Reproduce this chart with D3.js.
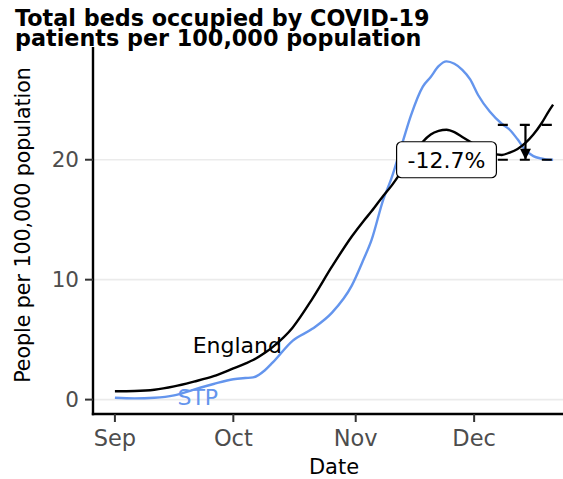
<!DOCTYPE html>
<html>
<head>
<meta charset="utf-8">
<script src="https://cdn.jsdelivr.net/npm/d3@7"></script>
<style>
body { margin: 0; background: #fff; }
text { font-family: "DejaVu Sans", sans-serif; }
</style>
</head>
<body>
<script>
// daily values (people in hospital per 100k)
const dates = ["2020-09-01", "2020-09-06", "2020-09-11", "2020-09-16", "2020-09-21", "2020-09-26",
    "2020-10-01", "2020-10-04", "2020-10-06", "2020-10-09", "2020-10-11", "2020-10-16", "2020-10-21",
    "2020-10-26", "2020-10-31", "2020-11-03", "2020-11-05", "2020-11-08", "2020-11-10", "2020-11-13",
    "2020-11-15", "2020-11-18", "2020-11-20", "2020-11-22", "2020-11-24", "2020-11-26", "2020-11-28",
    "2020-11-30", "2020-12-02", "2020-12-05", "2020-12-08", "2020-12-10", "2020-12-12", "2020-12-14",
    "2020-12-16", "2020-12-18", "2020-12-20", "2020-12-21"];
const england = [0.70, 0.72, 0.82, 1.10, 1.50, 1.95,
    2.60, 3.00, 3.30, 3.90, 4.40, 6.00, 8.40,
    11.1, 13.6, 14.9, 15.7, 17.0, 17.8, 19.2,
    20.1, 21.5, 22.1, 22.4, 22.5, 22.3, 21.9,
    21.5, 21.1, 20.6, 20.4, 20.6, 20.9, 21.4,
    22.1, 23.0, 24.1, 24.6];
const stp = [0.15, 0.10, 0.15, 0.35, 0.84, 1.30,
    1.70, 1.80, 1.85, 2.45, 3.10, 4.90, 5.90,
    7.25, 9.50, 11.7, 13.3, 16.7, 18.4, 21.6,
    23.7, 26.1, 26.9, 27.8, 28.2, 28.0, 27.5,
    26.7, 25.4, 24.0, 23.0, 22.5, 21.7, 20.8,
    20.3, 20.1, 20.0, 20.0];

const yTicks = [0, 10, 20];
const monthTicks = ["2020-09-01", "2020-10-01", "2020-11-01", "2020-12-01"];
const monthLabels = ["Sep", "Oct", "Nov", "Dec"];

// comparison annotation
const refDates = ["2020-12-07", "2020-12-21"];
const refLevels = [22.9, 20.0];
const arrowDate = "2020-12-14";
const labelDate = "2020-11-24";

const seriesLabels = [
    { name: "England", date: "2020-10-02", value: 4.55, color: "#000" },
    { name: "STP", date: "2020-09-22", value: 0.25, color: "#6495ED" },
];

const width = 563;
const height = 479;
const panel = { left: 93, right: 575, top: 47, bottom: 414 };

const parse = d3.utcParse("%Y-%m-%d");
const dayList = dates.map(parse);

const x0 = d3.min(dayList), x1 = d3.max(dayList);
const xPad = (x1 - x0) * 0.05;
const x = d3.scaleUtc()
    .domain([new Date(+x0 - xPad), new Date(+x1 + xPad)])
    .range([panel.left, panel.right]);

const y = d3.scaleLinear()
    .domain([-1.2, 29.4])
    .range([panel.bottom, panel.top]);

const svg = d3.select("body")
    .append("svg")
    .attr("width", width)
    .attr("height", height);

// gridlines
svg.selectAll(".grid")
    .data(yTicks)
    .enter()
    .append("line")
    .attr("x1", panel.left)
    .attr("x2", panel.right)
    .attr("y1", d => y(d))
    .attr("y2", d => y(d))
    .attr("stroke", "#EBEBEB")
    .attr("stroke-width", 1.6);

const line = values => d3.line()
    .x((d, i) => x(dayList[i]))
    .y(d => y(d))
    .curve(d3.curveMonotoneX)(values);

svg.append("path")
    .attr("d", line(stp))
    .attr("fill", "none")
    .attr("stroke", "#6495ED")
    .attr("stroke-width", 2.4);

svg.append("path")
    .attr("d", line(england))
    .attr("fill", "none")
    .attr("stroke", "#000")
    .attr("stroke-width", 2.4);

// series labels
svg.selectAll(".slabel")
    .data(seriesLabels)
    .enter()
    .append("text")
    .attr("x", d => x(parse(d.date)))
    .attr("y", d => y(d.value))
    .attr("dy", "0.36em")
    .attr("text-anchor", "middle")
    .attr("font-size", "22px")
    .attr("fill", d => d.color)
    .text(d => d.name);

// dashed reference levels
svg.selectAll(".ref")
    .data(refLevels)
    .enter()
    .append("line")
    .attr("x1", x(parse(refDates[0])))
    .attr("x2", x(parse(refDates[1])))
    .attr("y1", d => y(d))
    .attr("y2", d => y(d))
    .attr("stroke", "#000")
    .attr("stroke-width", 2.2)
    .attr("stroke-dasharray", "10,12");

svg.append("defs")
    .append("marker")
    .attr("id", "head")
    .attr("viewBox", "0 0 10 10")
    .attr("refX", 10)
    .attr("refY", 5)
    .attr("markerWidth", 12)
    .attr("markerHeight", 11)
    .attr("markerUnits", "userSpaceOnUse")
    .attr("orient", "auto")
    .append("path")
    .attr("d", "M0,0L10,5L0,10z")
    .attr("fill", "#000");

svg.append("line")
    .attr("x1", x(parse(arrowDate)))
    .attr("x2", x(parse(arrowDate)))
    .attr("y1", y(refLevels[0]))
    .attr("y2", y(refLevels[1]))
    .attr("stroke", "#000")
    .attr("stroke-width", 2.2)
    .attr("marker-end", "url(#head)");

// percent change label
const change = (refLevels[1] - refLevels[0]) / refLevels[0] * 100;
const lab = svg.append("g")
    .attr("transform", `translate(${x(parse(labelDate))},${y(refLevels[1])})`);
const labRect = lab.append("rect");
const labText = lab.append("text")
    .attr("text-anchor", "middle")
    .attr("dy", "0.36em")
    .attr("font-size", "22px")
    .attr("fill", "#000")
    .text(`${change.toFixed(1)}%`);
const bb = labText.node().getBBox();
labRect
    .attr("x", bb.x - 11)
    .attr("y", -18)
    .attr("width", bb.width + 22)
    .attr("height", 36)
    .attr("rx", 5)
    .attr("fill", "#fff")
    .attr("stroke", "#000")
    .attr("stroke-width", 1.2);

// axes
svg.append("line")
    .attr("x1", panel.left)
    .attr("x2", panel.left)
    .attr("y1", panel.top)
    .attr("y2", panel.bottom + 1.2)
    .attr("stroke", "#000")
    .attr("stroke-width", 2.4);

svg.append("line")
    .attr("x1", panel.left - 1.2)
    .attr("x2", panel.right)
    .attr("y1", panel.bottom)
    .attr("y2", panel.bottom)
    .attr("stroke", "#000")
    .attr("stroke-width", 2.4);

svg.selectAll(".ytick")
    .data(yTicks)
    .enter()
    .append("line")
    .attr("x1", panel.left - 8)
    .attr("x2", panel.left)
    .attr("y1", d => y(d))
    .attr("y2", d => y(d))
    .attr("stroke", "#333")
    .attr("stroke-width", 2);

svg.selectAll(".ylab")
    .data(yTicks)
    .enter()
    .append("text")
    .attr("x", panel.left - 14)
    .attr("y", d => y(d))
    .attr("dy", "0.36em")
    .attr("text-anchor", "end")
    .attr("font-size", "21.5px")
    .attr("fill", "#4D4D4D")
    .text(d => d);

svg.selectAll(".xtick")
    .data(monthTicks)
    .enter()
    .append("line")
    .attr("x1", d => x(parse(d)))
    .attr("x2", d => x(parse(d)))
    .attr("y1", panel.bottom)
    .attr("y2", panel.bottom + 8)
    .attr("stroke", "#333")
    .attr("stroke-width", 2);

svg.selectAll(".xlab")
    .data(monthTicks)
    .enter()
    .append("text")
    .attr("x", d => x(parse(d)))
    .attr("y", 446)
    .attr("text-anchor", "middle")
    .attr("font-size", "22.5px")
    .attr("fill", "#4D4D4D")
    .text((d, i) => monthLabels[i]);

svg.append("text")
    .attr("x", 334)
    .attr("y", 474)
    .attr("text-anchor", "middle")
    .attr("font-size", "21px")
    .attr("fill", "#000")
    .text("Date");

svg.append("text")
    .attr("transform", "translate(30,225) rotate(-90)")
    .attr("text-anchor", "middle")
    .attr("font-size", "20.5px")
    .attr("fill", "#000")
    .text("People per 100,000 population");

const title = svg.append("text")
    .attr("x", 15)
    .attr("font-size", "22.3px")
    .attr("font-weight", "bold")
    .attr("fill", "#000");
title.append("tspan").attr("x", 15).attr("y", 26).text("Total beds occupied by COVID-19");
title.append("tspan").attr("x", 15).attr("y", 46).text("patients per 100,000 population");
</script>
</body>
</html>
